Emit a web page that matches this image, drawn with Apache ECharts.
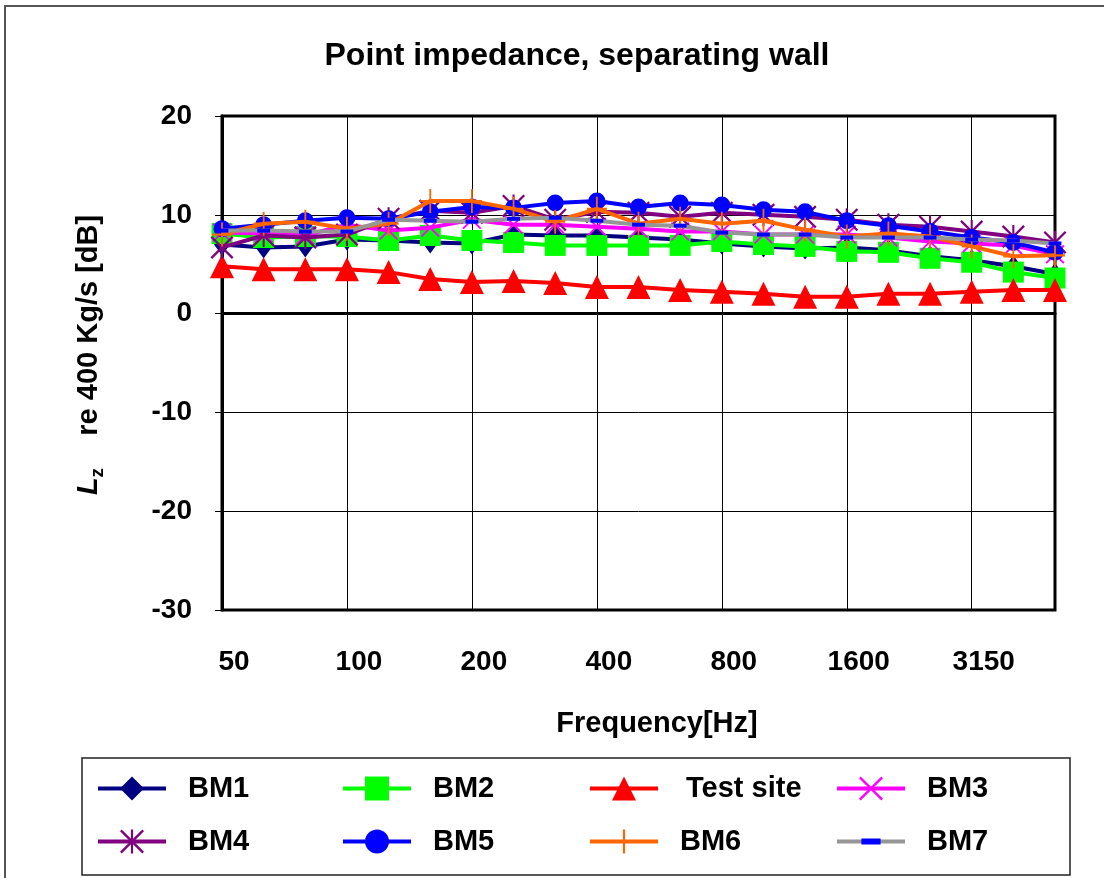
<!DOCTYPE html>
<html>
<head>
<meta charset="utf-8">
<script src="https://cdn.jsdelivr.net/npm/echarts@6/dist/echarts.min.js"></script>
<style>
html,body{margin:0;padding:0;background:#fff;}
#chart{width:1104px;height:878px;}
</style>
</head>
<body>
<div id="chart"></div>
<script>
const categories = ['50','63','80','100','125','160','200','250','315','400','500','630','800','1000','1250','1600','2000','2500','3150','4000','5000'];
const bm1 = [7.0, 6.7, 6.8, 7.5, 7.4, 7.2, 7.1, 8.0, 7.9, 7.9, 7.7, 7.5, 7.1, 6.8, 6.6, 6.7, 6.4, 5.8, 5.4, 4.8, 4.0];
const bm2 = [8.1, 7.7, 7.8, 7.8, 7.4, 7.9, 7.4, 7.2, 6.9, 6.9, 6.9, 6.9, 7.3, 7.0, 6.8, 6.3, 6.2, 5.6, 5.2, 4.2, 3.6];
const testSite = [4.8, 4.5, 4.5, 4.5, 4.2, 3.5, 3.2, 3.3, 3.1, 2.7, 2.7, 2.4, 2.2, 2.0, 1.7, 1.7, 2.0, 2.0, 2.2, 2.4, 2.4];
const bm3 = [8.2, 8.1, 7.9, 9.0, 8.4, 8.7, 9.5, 9.0, 9.0, 8.8, 8.6, 8.3, 8.3, 8.0, 8.0, 8.0, 7.7, 7.3, 7.1, 6.9, 6.0];
const bm4 = [6.7, 7.9, 7.7, 8.0, 9.6, 10.4, 10.2, 10.9, 9.5, 10.3, 10.2, 9.8, 10.2, 10.0, 9.8, 9.5, 9.0, 8.8, 8.3, 7.8, 7.2];
const bm5 = [8.6, 9.0, 9.4, 9.7, 9.6, 10.3, 10.8, 10.7, 11.2, 11.4, 10.8, 11.2, 11.0, 10.5, 10.3, 9.4, 8.9, 8.3, 7.7, 7.2, 6.2];
const bm6 = [8.0, 9.1, 9.3, 8.6, 9.1, 11.4, 11.4, 10.6, 9.3, 10.6, 9.1, 9.6, 9.1, 9.4, 8.5, 7.8, 8.1, 7.8, 6.8, 5.8, 5.9];
const bm7 = [8.4, 8.4, 8.3, 8.3, 9.5, 9.4, 9.3, 9.6, 9.7, 9.4, 9.0, 8.9, 8.2, 8.0, 8.0, 7.7, 7.7, 7.7, 7.5, 7.4, 7.1];
const seriesNames = ['BM1','BM2','Test site','BM3','BM4','BM5','BM6','BM7'];
const titleText = 'Point impedance, separating wall';
const xAxisTitle = 'Frequency[Hz]';

const FONT = '"Liberation Sans", Arial, sans-serif';
const SYM_X = 'path://M0,1.4 L1.4,0 L20,18.6 L18.6,20 Z M18.6,0 L20,1.4 L1.4,20 L0,18.6 Z';
const SYM_STAR = 'path://M0,1.4 L1.4,0 L20,18.6 L18.6,20 Z M18.6,0 L20,1.4 L1.4,20 L0,18.6 Z M9.1,0 L10.9,0 L10.9,20 L9.1,20 Z';
const SYM_PLUS = 'path://M9.1,0 L10.9,0 L10.9,9.1 L20,9.1 L20,10.9 L10.9,10.9 L10.9,20 L9.1,20 L9.1,10.9 L0,10.9 L0,9.1 L9.1,9.1 Z';
const SYM_DASH = 'path://M0,0 M20,20 M2,7.5 L18,7.5 L18,12.5 L2,12.5 Z';

const seriesData = [bm1, bm2, testSite, bm3, bm4, bm5, bm6, bm7];
const styles = [
  {line:'#000080', mark:'#000080', symbol:'diamond', size:[16,22]},
  {line:'#00FF00', mark:'#00FF00', symbol:'rect', size:21},
  {line:'#FF0000', mark:'#FF0000', symbol:'triangle', size:24},
  {line:'#FF00FF', mark:'#FF00FF', symbol:SYM_X, size:19},
  {line:'#800080', mark:'#800080', symbol:SYM_STAR, size:23},
  {line:'#0000FF', mark:'#0000FF', symbol:'circle', size:17},
  {line:'#FF6600', mark:'#FF6600', symbol:SYM_PLUS, size:[20,24]},
  {line:'#969696', mark:'#0000FF', symbol:SYM_DASH, size:16}
];

const series = seriesNames.map((name, i) => ({
  name: name,
  type: 'line',
  data: seriesData[i],
  symbol: styles[i].symbol,
  symbolSize: styles[i].size,
  showSymbol: true,
  lineStyle: {color: styles[i].line, width: 4},
  itemStyle: {color: styles[i].mark, borderWidth: 0, opacity: 1},
  emphasis: {disabled: true},
  z: 2 + i
}));

const colX = [96, 341, 588, 835];
const rowY = [774, 827];
const legends = seriesNames.map((name, i) => ({
  data: [name],
  left: colX[i % 4],
  top: rowY[Math.floor(i / 4)],
  orient: 'horizontal',
  padding: 0,
  itemWidth: 68,
  itemHeight: 30,
  selectedMode: false,
  lineStyle: {width: 4},
  textStyle: {fontFamily: FONT, fontSize: 29, fontWeight: 'bold', color: '#000', padding: [0, 0, 0, name === 'Test site' ? 23 : 17]}
}));

const chart = echarts.init(document.getElementById('chart'), null, {renderer: 'canvas'});
chart.setOption({
  animation: false,
  backgroundColor: '#fff',
  title: {
    text: titleText,
    left: 577, top: 40, textAlign: 'center', padding: 0,
    textStyle: {fontFamily: FONT, fontSize: 32, fontWeight: 'bold', color: '#000'}
  },
  legend: legends,
  grid: {left: 222, top: 116, width: 833, height: 494, show: true, borderColor: '#000', borderWidth: 3, backgroundColor: 'transparent', containLabel: false},
  xAxis: {
    type: 'category',
    data: categories,
    boundaryGap: false,
    axisLine: {show: true, lineStyle: {color: '#000', width: 3}},
    axisTick: {show: true, interval: 2, length: 8, inside: false, lineStyle: {color: '#000', width: 1}},
    axisLabel: {interval: 2, margin: 38, padding: [0, 0, 0, 24], fontFamily: FONT, fontSize: 28, fontWeight: 'bold', color: '#000'},
    splitLine: {show: true, interval: 2, lineStyle: {color: '#000', width: 1}}
  },
  yAxis: {
    type: 'value',
    min: -30, max: 20, interval: 10,
    axisLine: {show: true, lineStyle: {color: '#000', width: 3}},
    axisTick: {show: true, length: 7, inside: false, lineStyle: {color: '#000', width: 1}},
    axisLabel: {margin: 30, fontFamily: FONT, fontSize: 28, fontWeight: 'bold', color: '#000'},
    splitLine: {show: true, lineStyle: {color: '#000', width: 1}}
  },
  graphic: [
    {type: 'rect', shape: {x: 5, y: 6, width: 1200, height: 1000}, style: {fill: 'none', stroke: '#555', lineWidth: 2}, z: -10, silent: true},
    {type: 'rect', shape: {x: 82, y: 758, width: 988, height: 117}, style: {fill: 'none', stroke: '#222', lineWidth: 1.5}, silent: true},
    {type: 'text', x: 657, y: 724, style: {text: xAxisTitle, fontFamily: FONT, fontSize: 29, fontWeight: 'bold', fill: '#000', align: 'center', verticalAlign: 'middle'}, silent: true},
    {type: 'text', x: 86, y: 355, rotation: Math.PI / 2,
      style: {
        text: '{L|L}{z|z}{t|    re 400 Kg/s [dB]}',
        align: 'center', verticalAlign: 'middle',
        rich: {
          L: {fontFamily: FONT, fontSize: 29, fontWeight: 'bold', fontStyle: 'italic', fill: '#000', lineHeight: 34, verticalAlign: 'bottom'},
          z: {fontFamily: FONT, fontSize: 19, fontWeight: 'bold', fill: '#000', lineHeight: 34, verticalAlign: 'bottom', padding: [0, 0, -4, 0]},
          t: {fontFamily: FONT, fontSize: 29, fontWeight: 'bold', fill: '#000', lineHeight: 34, verticalAlign: 'bottom'}
        }
      }, silent: true}
  ],
  series: series
});
</script>
</body>
</html>
